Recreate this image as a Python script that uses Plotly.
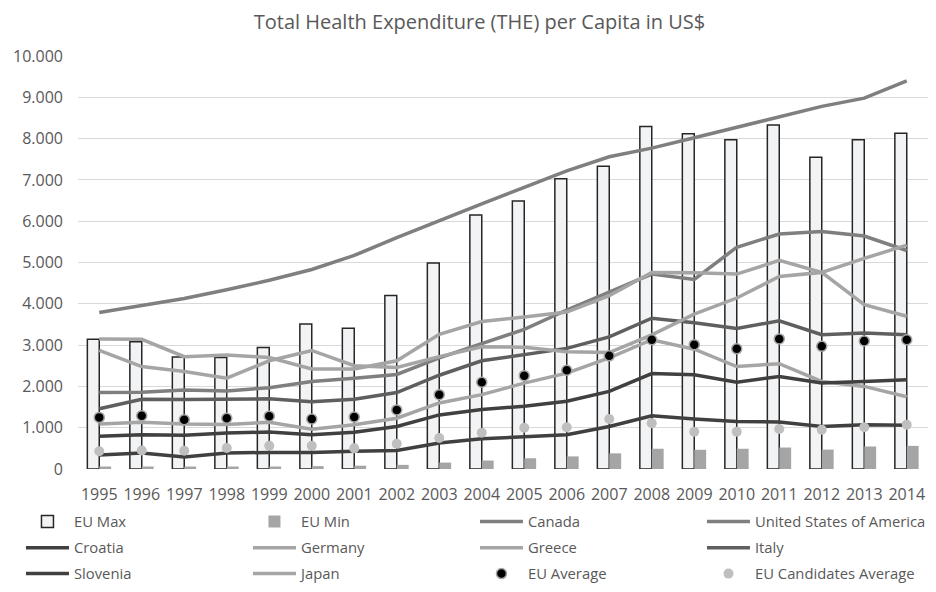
import plotly.graph_objects as go

years = [str(y) for y in range(1995, 2015)]

eu_max = [3140, 3080, 2710, 2700, 2940, 3510, 3410, 4200, 4990, 6150, 6490, 7030, 7330, 8290, 8120, 7970, 8330, 7550, 7970, 8130]
eu_min = [60, 60, 60, 60, 60, 70, 80, 100, 155, 205, 260, 305, 380, 490, 465, 490, 520, 470, 545, 560]
canada = [1850, 1860, 1910, 1890, 1970, 2120, 2200, 2290, 2690, 3030, 3380, 3850, 4280, 4720, 4590, 5370, 5690, 5750, 5640, 5290]
usa = [3790, 3950, 4130, 4340, 4570, 4830, 5170, 5600, 6020, 6420, 6820, 7220, 7560, 7770, 8020, 8280, 8520, 8780, 8980, 9400]
croatia = [340, 390, 290, 390, 400, 400, 430, 450, 630, 730, 780, 830, 1030, 1290, 1210, 1150, 1140, 1030, 1070, 1060]
germany = [3150, 3140, 2720, 2760, 2700, 2420, 2420, 2620, 3260, 3570, 3680, 3800, 4200, 4760, 4750, 4720, 5050, 4760, 5100, 5420]
greece = [1090, 1130, 1090, 1080, 1130, 960, 1070, 1230, 1600, 1800, 2080, 2320, 2690, 3130, 2900, 2480, 2550, 2120, 2000, 1750]
italy = [1460, 1690, 1680, 1700, 1700, 1630, 1690, 1850, 2270, 2620, 2780, 2920, 3200, 3650, 3540, 3400, 3590, 3250, 3290, 3250]
slovenia = [790, 830, 815, 870, 895, 830, 890, 1030, 1310, 1440, 1520, 1640, 1880, 2310, 2280, 2100, 2240, 2080, 2120, 2160]
japan = [2870, 2480, 2360, 2200, 2620, 2870, 2500, 2460, 2720, 2960, 2950, 2840, 2820, 3250, 3750, 4140, 4660, 4760, 3980, 3700]
eu_avg = [1250, 1290, 1190, 1230, 1280, 1210, 1260, 1430, 1800, 2100, 2260, 2390, 2740, 3130, 3010, 2910, 3150, 2970, 3100, 3130]
eu_cand = [430, 450, 440, 510, 560, 560, 500, 610, 750, 880, 1000, 1010, 1210, 1110, 900, 900, 970, 950, 1010, 1070]

FONT = "Open Sans"
TXT = "#595959"

fig = go.Figure()
fig.add_trace(go.Bar(name="EU Max", x=years, y=eu_max, legend="legend",
                     marker=dict(color="#f2f3f5", line=dict(color="#262626", width=1.5))))
fig.add_trace(go.Bar(name="EU Min", x=years, y=eu_min, legend="legend",
                     marker=dict(color="#a5a5a5", line=dict(width=0))))

def line(name, vals, color, leg):
    fig.add_trace(go.Scatter(name=name, x=years, y=vals, mode="lines", legend=leg,
                             line=dict(color=color, width=3.5)))

line("Canada", canada, "#7f7f7f", "legend")
line("United States of America", usa, "#7f7f7f", "legend")
line("Croatia", croatia, "#404040", "legend2")
line("Germany", germany, "#a5a5a5", "legend2")
line("Greece", greece, "#a5a5a5", "legend2")
line("Italy", italy, "#5f5f5f", "legend2")
line("Slovenia", slovenia, "#404040", "legend3")
line("Japan", japan, "#a5a5a5", "legend3")

fig.add_trace(go.Scatter(name="EU Average", x=years, y=eu_avg, mode="markers", legend="legend3",
                         marker=dict(color="#000000", size=10, line=dict(color="#a5a5a5", width=1.5))))
fig.add_trace(go.Scatter(name="EU Candidates Average", x=years, y=eu_cand, mode="markers", legend="legend3",
                         marker=dict(color="#bfbfbf", size=10, line=dict(width=0))))

def leg(yc):
    return dict(orientation="h", x=-0.0671, xanchor="left", y=yc, yanchor="middle",
                entrywidth=169, entrywidthmode="pixels", itemwidth=43,
                font=dict(size=14.8, color=TXT, family=FONT),
                traceorder="normal", bgcolor="rgba(0,0,0,0)")

# the page body adds an 8 px margin; the figure is sized so the page does not overflow
fig.update_layout(
    width=920, height=576,
    margin=dict(l=70, r=0, t=48, b=115, autoexpand=False),
    paper_bgcolor="white", plot_bgcolor="white",
    font=dict(family=FONT, size=16, color=TXT),
    separators=",.",
    title=dict(text="Total Health Expenditure (THE) per Capita in US$",
               x=0.5125, xref="container", xanchor="center",
               y=1 - 14 / 576, yref="container", yanchor="middle",
               font=dict(size=20, color=TXT, family=FONT)),
    barmode="group", bargap=0.44, bargroupgap=0,
    showlegend=True,
    legend=leg(-0.1283),
    legend2=leg(-0.1913),
    legend3=leg(-0.2542),
)
fig.update_xaxes(type="category", range=[-0.5, len(years) - 0.5], autorange=False,
                 showgrid=False, showline=False, ticks="", tickangle=0,
                 tickfont=dict(size=16, color=TXT), ticklabelstandoff=14)
fig.update_yaxes(range=[0, 10000], dtick=1000, tickformat=",d", showgrid=True,
                 gridcolor="#d9d9d9", gridwidth=1, zeroline=False, showline=False,
                 tickfont=dict(size=16, color=TXT), ticklabelstandoff=14)

fig.write_html("out.html")
